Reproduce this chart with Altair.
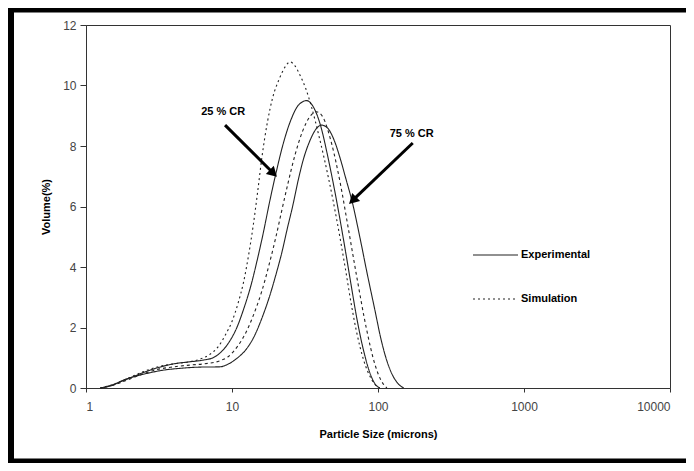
import altair as alt
import pandas as pd

# ---- data ----
exp25_x = [1.25, 1.5, 2, 2.5, 3, 4, 5, 6.3, 7.4, 8.25, 9.5, 10.8, 12, 13.5, 15, 16.5, 18, 20, 22.5, 25.5, 28.5, 32.5, 36, 40, 46, 52, 60, 66, 71, 80, 88, 95, 103]
exp25_y = [0, 0.1, 0.33, 0.52, 0.65, 0.8, 0.86, 0.92, 1.0, 1.15, 1.5, 2.0, 2.6, 3.4, 4.3, 5.2, 6.1, 7.1, 8.1, 8.9, 9.35, 9.5, 9.3, 8.75, 7.5, 6.2, 4.5, 3.3, 2.4, 1.2, 0.5, 0.15, 0]

sim25_x = [1.25, 1.5, 2, 2.5, 3, 4, 5, 6, 7, 8, 9, 10, 11, 12, 13, 14, 15, 16, 17.5, 19, 21, 23, 25, 27, 29.5, 32, 35, 40, 46, 52, 60, 66, 71, 80, 90, 97, 103]
sim25_y = [0, 0.1, 0.35, 0.55, 0.68, 0.8, 0.86, 0.95, 1.1, 1.35, 1.75, 2.2, 2.8, 3.5, 4.4, 5.4, 6.5, 7.6, 8.8, 9.6, 10.2, 10.6, 10.78, 10.65, 10.3, 9.9, 9.3, 8.2, 6.9, 5.6, 3.9, 2.7, 1.9, 0.9, 0.3, 0.08, 0]

exp75_x = [1.28, 1.5, 1.8, 2.6, 3.5, 4.4, 6, 8.25, 9.5, 10.8, 12.6, 14, 16, 18, 20, 22, 24, 26, 28.5, 31, 34, 37.5, 41, 45, 50, 55, 60, 67, 75, 85, 95, 105, 115, 125, 137, 150]
exp75_y = [0, 0.08, 0.26, 0.48, 0.6, 0.65, 0.69, 0.7, 0.8, 0.98, 1.3, 1.65, 2.3, 3.0, 3.75, 4.5, 5.3, 6.0, 6.9, 7.6, 8.15, 8.55, 8.69, 8.6, 8.2, 7.6, 6.95, 6.1, 5.0, 3.7, 2.6, 1.6, 0.9, 0.45, 0.15, 0]

sim75_x = [1.25, 1.5, 2, 2.5, 3, 4, 5.2, 6.5, 8.25, 9.5, 11, 12.5, 14, 16, 18, 20, 22, 24, 27, 30.5, 34.5, 38, 42, 48, 55, 63, 72, 83, 95, 105, 115]
sim75_y = [0, 0.08, 0.3, 0.48, 0.6, 0.7, 0.76, 0.8, 0.9, 1.05, 1.4, 1.85, 2.4, 3.2, 4.1, 5.0, 5.9, 6.7, 7.7, 8.5, 9.0, 9.13, 8.95, 8.1, 6.8, 5.2, 3.6, 2.0, 0.8, 0.25, 0]

x_ticks = [1, 10, 100, 1000, 10000]
y_ticks = [0, 2, 4, 6, 8, 10, 12]

ann_labels = ["25 % CR", "75 % CR"]
ann_label_x = [8.7, 170]
ann_label_y = [9.12, 8.4]
arrow_tail_x = [8.96, 173]
arrow_tail_y = [8.69, 8.1]
arrow_tip_x = [19.2, 67]
arrow_tip_y = [7.1, 6.2]
arrow_angle = [134, 226]

rows = []
for name, kind, xs, ys in [
    ("25% CR Experimental", "Experimental", exp25_x, exp25_y),
    ("25% CR Simulation", "Simulation", sim25_x, sim25_y),
    ("75% CR Experimental", "Experimental", exp75_x, exp75_y),
    ("75% CR Simulation", "Simulation", sim75_x, sim75_y),
]:
    for a, b in zip(xs, ys):
        rows.append({"size": a, "volume": b, "series": name, "type": kind})
df = pd.DataFrame(rows)

ann = pd.DataFrame({"label": ann_labels, "lx": ann_label_x, "ly": ann_label_y,
                    "tx": arrow_tail_x, "ty": arrow_tail_y,
                    "hx": arrow_tip_x, "hy": arrow_tip_y, "ang": arrow_angle})

xscale = alt.Scale(type="log", domain=[1, 10000])
yscale = alt.Scale(domain=[0, 12])

lines = alt.Chart(df).mark_line(color="#222", strokeWidth=1.1, interpolate="monotone").encode(
    x=alt.X("size:Q", scale=xscale,
            axis=alt.Axis(values=x_ticks, format="d", title="Particle Size (microns)",
                          tickSize=4, labelPadding=9, titlePadding=16)),
    y=alt.Y("volume:Q", scale=yscale,
            axis=alt.Axis(values=y_ticks, title="Volume(%)", tickSize=6,
                          labelPadding=4, titlePadding=11)),
    detail="series:N",
    order="size:Q",
    strokeDash=alt.StrokeDash(
        "series:N",
        scale=alt.Scale(domain=["25% CR Experimental", "25% CR Simulation",
                                "75% CR Experimental", "75% CR Simulation"],
                        range=[[1, 0], [2, 3], [1, 0], [3, 3]]),
        legend=None),
)

arrows = alt.Chart(ann).mark_rule(color="black", strokeWidth=3).encode(
    x=alt.X("tx:Q", scale=xscale), y=alt.Y("ty:Q", scale=yscale),
    x2="hx:Q", y2="hy:Q")

heads = alt.Chart(ann).mark_point(shape="triangle-up", filled=True, color="black",
                                  size=130, opacity=1).encode(
    x=alt.X("hx:Q", scale=xscale), y=alt.Y("hy:Q", scale=yscale),
    angle=alt.Angle("ang:Q", scale=None))

labels = alt.Chart(ann).mark_text(font="Liberation Sans", fontSize=11, fontWeight="bold",
                                  color="black").encode(
    x=alt.X("lx:Q", scale=xscale), y=alt.Y("ly:Q", scale=yscale), text="label:N")

# manual legend (decoration)
leg_exp_line = alt.Chart().mark_rule(color="#222", strokeWidth=1.1).encode(
    x=alt.value(387), x2=alt.value(432), y=alt.value(230))
leg_sim_line = alt.Chart().mark_rule(color="#222", strokeWidth=1.1, strokeDash=[2, 3]).encode(
    x=alt.value(387), x2=alt.value(432), y=alt.value(274))
leg_exp_txt = alt.Chart().mark_text(text="Experimental", align="left", baseline="middle",
                                    font="Liberation Sans", fontSize=11, fontWeight="bold",
                                    color="black").encode(x=alt.value(435), y=alt.value(230))
leg_sim_txt = alt.Chart().mark_text(text="Simulation", align="left", baseline="middle",
                                    font="Liberation Sans", fontSize=11, fontWeight="bold",
                                    color="black").encode(x=alt.value(435), y=alt.value(274))

# scanned-figure black frame (decoration)
frame_left = alt.Chart().mark_rule(color="black", strokeWidth=6).encode(
    x=alt.value(-75), y=alt.value(-17), y2=alt.value(438))
frame_top = alt.Chart().mark_rule(color="black", strokeWidth=5).encode(
    x=alt.value(-78), x2=alt.value(600), y=alt.value(-15))
frame_bottom = alt.Chart().mark_rule(color="black", strokeWidth=5).encode(
    x=alt.value(-78), x2=alt.value(600), y=alt.value(436))

chart = alt.layer(
    lines, arrows, heads, labels,
    leg_exp_line, leg_sim_line, leg_exp_txt, leg_sim_txt,
    frame_left, frame_top, frame_bottom,
).properties(
    width=584, height=363,
    autosize=alt.AutoSizeParams(type="none"),
    padding={"left": 78, "top": 17, "right": 16, "bottom": 75},
).configure_view(
    stroke="#333", strokeWidth=1
).configure_axis(
    grid=False, domainColor="#333", tickColor="#333", labelColor="#444",
    labelFont="Liberation Sans", labelFontSize=12,
    titleFont="Liberation Sans", titleFontSize=11, titleFontWeight="bold", titleColor="black",
)

chart.save("out.html", embed_options={"renderer": "svg", "actions": False})
